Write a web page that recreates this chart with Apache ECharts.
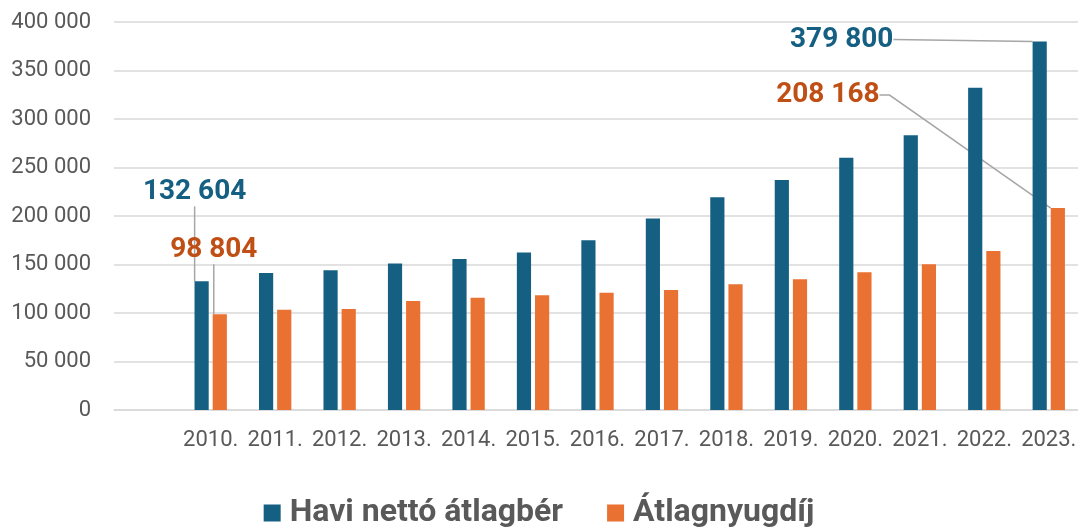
<!DOCTYPE html>
<html>
<head>
<meta charset="utf-8">
<script src="https://cdn.jsdelivr.net/npm/echarts@6/dist/echarts.min.js"></script>
<style>
  html, body { margin: 0; padding: 0; background: #fff; }
  #chart { width: 1078px; height: 527px; }
</style>
</head>
<body>
<div id="chart"></div>
<script>
// évek (az első üres hely a tengely elején)
const years = ['2010.', '2011.', '2012.', '2013.', '2014.', '2015.', '2016.',
  '2017.', '2018.', '2019.', '2020.', '2021.', '2022.', '2023.'];
// Havi nettó átlagbér (Ft)
const wage = [132604, 141151, 144085, 151118, 155690, 162391, 175009,
  197516, 219412, 236997, 260119, 283268, 332339, 379800];
// Átlagnyugdíj (Ft)
const pension = [98804, 103400, 104100, 112400, 115800, 118200, 120900,
  123700, 129600, 134700, 141900, 150200, 163900, 208168];
const seriesNames = ['Havi nettó átlagbér', 'Átlagnyugdíj'];

const BLUE = '#156082';
const ORANGE = '#E97132';
const GREY_TEXT = '#595959';
const GRID_LINE = '#d9d9d9';

const fmt = v => String(v).replace(/\B(?=(\d{3})+(?!\d))/g, ' ');

// címkék csak az első és az utolsó évnél
const firstIdx = 1;
const lastIdx = years.length;
const labelled = (arr, color) => [null].concat(arr).map((v, i) => {
  if (i === firstIdx || i === lastIdx) {
    return { value: v, label: { show: true, color: color } };
  }
  return v;
});

// eltolások a címkék alapértelmezett helyéhez képest
const labelShift = {
  '0-1': { dx: -7, dy: -70 },
  '1-1': { dx: -6, dy: -45 },
  '0-14': { dx: -198, dy: 17 },
  '1-14': { dx: -230, dy: -94 }
};

const chart = echarts.init(document.getElementById('chart'));

const labelBase = {
  show: false,
  position: 'top',
  distance: 5,
  fontFamily: 'Roboto',
  fontWeight: 'bold',
  fontSize: 28,
  formatter: p => fmt(p.value)
};

const option = {
  backgroundColor: '#fff',
  animation: false,
  textStyle: { fontFamily: 'Roboto' },
  grid: {
    left: 114,
    top: 22,
    width: 967,
    height: 388,
    containLabel: false,
    outerBoundsMode: 'none'
  },
  legend: {
    data: seriesNames,
    top: 497,
    left: 'center',
    padding: 0,
    icon: 'rect',
    itemWidth: 17,
    itemHeight: 17,
    itemGap: 44,
    textStyle: {
      fontFamily: 'Roboto',
      fontWeight: 'bold',
      fontSize: 32,
      color: GREY_TEXT,
      padding: [0, 0, 0, 4]
    }
  },
  xAxis: {
    type: 'category',
    data: [''].concat(years),
    axisLine: { show: true, lineStyle: { color: GRID_LINE, width: 1.5 } },
    axisTick: { show: false },
    axisLabel: {
      color: GREY_TEXT,
      fontSize: 22,
      margin: 19,
      interval: 0
    }
  },
  yAxis: {
    type: 'value',
    min: 0,
    max: 400000,
    interval: 50000,
    axisLine: { show: false },
    axisTick: { show: false },
    splitLine: { lineStyle: { color: GRID_LINE, width: 1.5 } },
    axisLabel: {
      color: GREY_TEXT,
      fontSize: 22,
      margin: 23,
      formatter: v => fmt(v)
    }
  },
  series: [
    {
      name: seriesNames[0],
      type: 'bar',
      barWidth: '22%',
      barGap: '28%',
      itemStyle: { color: BLUE },
      data: labelled(wage, BLUE),
      label: labelBase,
      labelLine: { show: true, lineStyle: { color: '#a6a6a6', width: 1.5 } },
      labelLayout: p => labelShift['0-' + p.dataIndex] || {}
    },
    {
      name: seriesNames[1],
      type: 'bar',
      barWidth: '22%',
      barGap: '28%',
      itemStyle: { color: ORANGE },
      data: labelled(pension, '#C04F15'),
      label: labelBase,
      labelLine: { show: true, length2: 10, lineStyle: { color: '#a6a6a6', width: 1.5 } },
      labelLayout: p => labelShift['1-' + p.dataIndex] || {}
    }
  ]
};

chart.setOption(option);
</script>
</body>
</html>
